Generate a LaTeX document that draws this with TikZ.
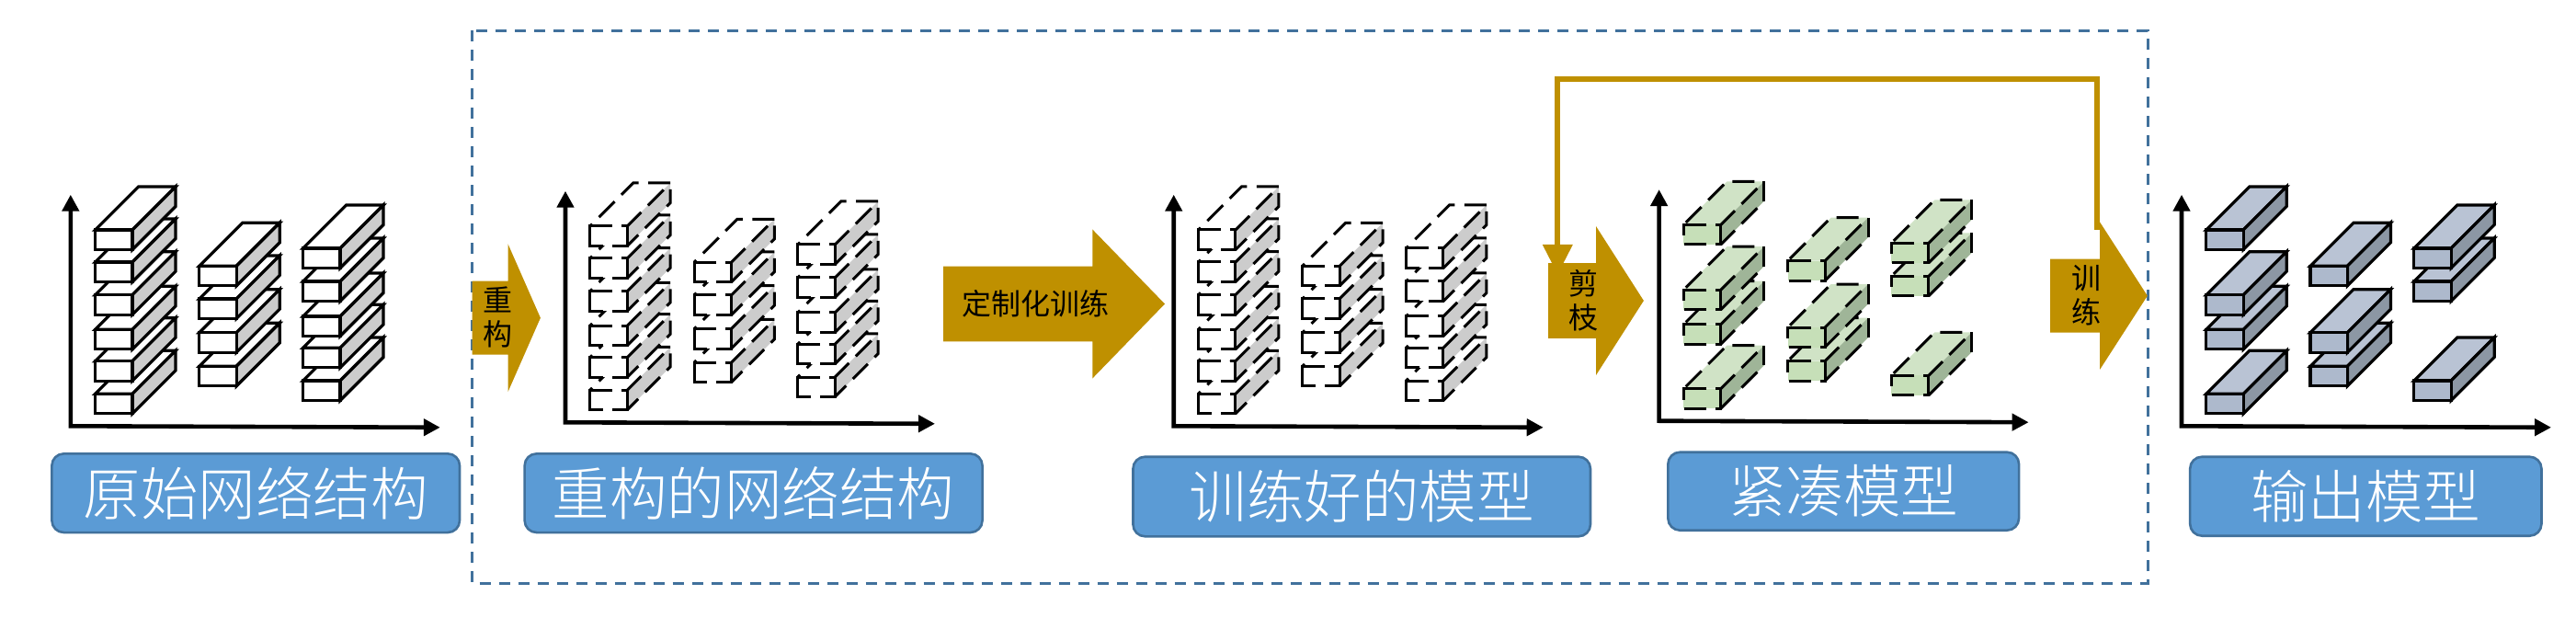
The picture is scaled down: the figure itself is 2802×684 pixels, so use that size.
\documentclass[tikz,border=0pt]{standalone}
\usepackage{xcolor}
\usepackage{fontspec}
\usepackage{tikz}
\usetikzlibrary{arrows.meta}
\newfontfamily\cjk{Noto Sans CJK SC}
\newfontfamily\cjklight{Noto Sans CJK SC Light}

\definecolor{goldarrow}{HTML}{BF9000}
\definecolor{labelblue}{HTML}{5B9BD5}
\definecolor{labeledge}{HTML}{41719C}
\definecolor{greytop}{HTML}{CCCCCC}
\definecolor{greentop}{HTML}{D0E3C6}
\definecolor{greenfront}{HTML}{C6DFB8}
\definecolor{greenside}{HTML}{9FB598}
\definecolor{slatetop}{HTML}{B9C3D4}
\definecolor{slatefront}{HTML}{ADB9CC}
\definecolor{slateside}{HTML}{8C97A4}

\tikzset{
  axisline/.style={line width=4.6pt, {Triangle[width=18pt,length=18pt]}-{Triangle[width=18pt,length=18pt]}},
  blockline/.style={line width=3.2pt},
  cutline/.style={line width=3pt, dash pattern=on 24pt off 10.5pt},
  cutback/.style={line width=3pt, dash pattern=on 24pt off 10.5pt, dash phase=24pt},
  labelbox/.style={draw=labeledge, line width=2.6pt, fill=labelblue, rounded corners=13pt,
    text=white, inner sep=0pt, font=\cjklight\fontsize{62.5}{62.5}\selectfont},
  arrowtext/.style={align=center, inner sep=0pt, font=\cjk\fontsize{32}{37}\selectfont},
  loopline/.style={draw=goldarrow, line width=5.8pt, -{Triangle[width=31.4pt,length=32.5pt]}},
}

% #1 x, #2 y of front top left corner, #3 top, #4 front, #5 side
\newcommand{\solidblock}[5]{
  \filldraw[blockline, fill=#3] (#1,#2) -- ++(47,-47) -- ++(40.4,0) -- ++(-47,47) -- cycle;
  \filldraw[blockline, fill=#5] (#1+40.4,#2) -- ++(47,-47) -- ++(0,21.5) -- ++(-47,47) -- cycle;
  \filldraw[blockline, fill=#4] (#1,#2) rectangle ++(40.4,21.5);
}
\newcommand{\blockfill}[5]{
  \fill[#3] (#1,#2) -- ++(47,-47) -- ++(40.4,0) -- ++(-47,47) -- cycle;
  \fill[#5] (#1+40.4,#2) -- ++(47,-47) -- ++(0,21.5) -- ++(-47,47) -- cycle;
  \fill[#4] (#1,#2) rectangle ++(40.4,21.5);
}
\newcommand{\plainblock}[2]{\solidblock{#1}{#2}{white}{white}{greytop}}
\newcommand{\slateblock}[2]{\solidblock{#1}{#2}{slatetop}{slatefront}{slateside}}
\newcommand{\cutblock}[2]{
  \blockfill{#1}{#2}{white}{white}{greytop}
  \draw[cutline] (#1+87.4,#2-47) -- ++(-40.4,0) -- (#1,#2);
  \draw[cutback] (#1+87.4,#2-47) -- (#1+40.4,#2);
  \draw[line width=3pt, dash pattern=on 17pt off 10.5pt on 23pt off 10.5pt on 20pt off 99pt]
    (#1+40.4,#2+21.5) -- ++(47,-47) -- ++(0,-21.5);
  \draw[line width=3pt, line join=miter] (#1+24,#2) -- (#1,#2) -- (#1,#2+21.5) -- (#1+14,#2+21.5);
  \draw[line width=3pt, line join=miter] (#1+34.4,#2) -- (#1+40.4,#2) -- (#1+40.4,#2+21.5) -- (#1+24.4,#2+21.5);
}
\newcommand{\greenblock}[2]{
  \blockfill{#1}{#2}{greentop}{greenfront}{greenside}
  \draw[cutback] (#1+87.4,#2-47) -- ++(-40.4,0) -- (#1,#2);
  \draw[cutback] (#1+87.4,#2-47) -- (#1+40.4,#2);
  \draw[cutback] (#1+87.4,#2-25.5) -- (#1+40.4,#2+21.5);
  \draw[line width=3pt] (#1+87.4,#2-47) -- ++(0,21.5);
  \draw[line width=3pt, line join=miter] (#1+25,#2) -- (#1,#2) -- (#1,#2+12);
  \draw[line width=3pt, line join=miter] (#1+35,#2) -- (#1+40.4,#2) -- (#1+40.4,#2+21.5) -- (#1+35,#2+21.5);
  \draw[line width=3pt] (#1+1,#2+21.5) -- (#1+25,#2+21.5);
}
% #1 block macro
\newcommand{\fullstacks}[1]{
  \foreach \rowy in {-35,-70.6,-105,-142.6,-178.3,-213.3} {#1{26.8}{\rowy}}
  \foreach \rowy in {-65,-101.6,-138.3,-174} {#1{140}{\rowy}}
  \foreach \rowy in {-49.3,-85,-119.3,-157.3,-193.3} {#1{252.8}{\rowy}}
}
\newcommand{\prunedstacks}[1]{
  \foreach \rowy in {-35,-105,-142.6,-213.3} {#1{26.8}{\rowy}}
  \foreach \rowy in {-65,-101.6,-174} {#1{140}{\rowy}}
  \foreach \rowy in {-49.3,-157.3,-193.3} {#1{252.8}{\rowy}}
}
\newcommand{\chartaxes}{
  \draw[axisline] (0,-251.6) -- (0,0) -- (402,1.5);
}
% #1 left, #2 neck, #3 tip, #4 middle y, #5 half shaft, #6 half head
\newcommand{\goldshape}[6]{
  \fill[goldarrow] (#1,#4-#5) -- (#2,#4-#5) -- (#2,#4-#6) -- (#3,#4) -- (#2,#4+#6) -- (#2,#4+#5) -- (#1,#4+#5) -- cycle;
}

\begin{document}
\begin{tikzpicture}[x=1pt, y=-1pt]
    \useasboundingbox (0,0) rectangle (2802,684);

    % Dashed frame
    \draw[labeledge, line width=3pt, dash pattern=on 12pt off 9pt] (513.3,33.3) rectangle (2336,634);

    % Charts
    \begin{scope}[shift={(76.8,463.3)}]
        \fullstacks{\plainblock}
        \chartaxes
    \end{scope}
    \begin{scope}[shift={(615,459.3)}]
        \fullstacks{\cutblock}
        \chartaxes
    \end{scope}
    \begin{scope}[shift={(1276.7,463.3)}]
        \fullstacks{\cutblock}
        \chartaxes
    \end{scope}
    \begin{scope}[shift={(1804.6,457.7)}]
        \prunedstacks{\greenblock}
        \chartaxes
    \end{scope}
    \begin{scope}[shift={(2373,463.3)}]
        \prunedstacks{\slateblock}
        \chartaxes
    \end{scope}

    % Gold arrows
    \goldshape{513.6}{552.5}{587.9}{345.7}{40}{80.5}
    \goldshape{1026}{1188.3}{1267}{330.5}{40.8}{81}
    \goldshape{1684}{1736}{1787.9}{327}{40.8}{81}
    \goldshape{2230}{2284.2}{2335.8}{321.7}{40}{80}

    \node[arrowtext] (rebuild) at (541.8,345) {重\\构};
    \node[arrowtext] (custom) at (1126.2,330) {定制化训练};
    \node[arrowtext] (prune) at (1722.5,326.7) {剪\\枝};
    \node[arrowtext] (train) at (2269.4,321) {训\\练};

    % Retrain loop
    \coordinate (trainTop) at (2281.2,250);
    \coordinate (loopRight) at (2281.2,86);
    \coordinate (pruneTop) at (1694.3,298.5);
    \draw[loopline] (trainTop) -- (loopRight) -| (pruneTop);

    % Labels
    \node[labelbox, minimum width=443.6pt, minimum height=85.7pt] (origin) at (278.2,536.2) {原始网络结构};
    \node[labelbox, minimum width=497.9pt, minimum height=85.7pt] (rebuilt) at (819.6,536.2) {重构的网络结构};
    \node[labelbox, minimum width=497.5pt, minimum height=86.6pt] (trained) at (1481.2,540) {训练好的模型};
    \node[labelbox, minimum width=381.7pt, minimum height=85pt] (compact) at (2005.2,534.2) {紧凑模型};
    \node[labelbox, minimum width=382.3pt, minimum height=86pt] (output) at (2573.3,539.7) {输出模型};
\end{tikzpicture}
\end{document}
